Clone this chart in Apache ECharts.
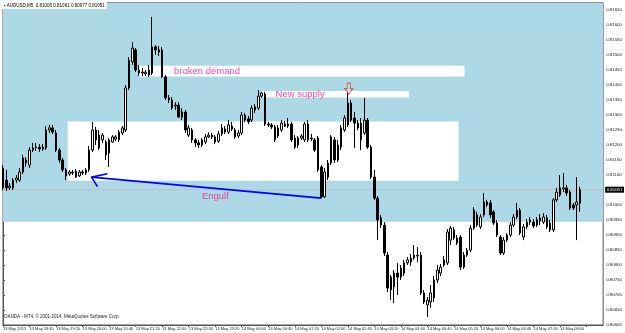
<!DOCTYPE html>
<html><head><meta charset="utf-8">
<style>html,body{margin:0;padding:0;background:#fff}#c{width:625px;height:333px}</style>
<script src="https://cdn.jsdelivr.net/npm/echarts@6/dist/echarts.min.js"></script>
</head><body><div id="c"></div>
<script>
const symbolName = 'AUDUSD,M5';
const copyrightText = 'OANDA - MT4, © 2001-2014, MetaQuotes Software Corp.';
const tickLabels = ["13 May 2015","13 May 18:40","13 May 19:20","13 May 20:00","13 May 20:40","13 May 21:20","13 May 22:00","13 May 22:40","13 May 23:20","14 May 00:00","14 May 00:40","14 May 01:20","14 May 02:00","14 May 02:40","14 May 03:20","14 May 04:00","14 May 04:40","14 May 05:20","14 May 06:00","14 May 06:40","14 May 07:20","14 May 08:00"];

const opens = [
0.81123,0.81083,0.81057,0.81057,0.81083,0.81083,0.81110,0.81150,0.81133,0.81183,
0.81190,0.81193,0.81187,0.81190,0.81250,0.81257,0.81240,0.81183,0.81150,0.81117,
0.81103,0.81110,0.81113,0.81097,0.81110,0.81107,0.81117,0.81183,0.81250,0.81233,
0.81217,0.81210,0.81173,0.81210,0.81220,0.81217,0.81240,0.81250,0.81390,0.81477,
0.81517,0.81450,0.81440,0.81437,0.81433,0.81440,0.81527,0.81517,0.81517,0.81427,
0.81357,0.81350,0.81330,0.81333,0.81293,0.81310,0.81233,0.81250,0.81217,0.81207,
0.81200,0.81210,0.81227,0.81233,0.81227,0.81213,0.81237,0.81253,0.81243,0.81263,
0.81250,0.81230,0.81240,0.81300,0.81287,0.81283,0.81317,0.81323,0.81363,0.81370,
0.81270,0.81267,0.81260,0.81230,0.81250,0.81270,0.81263,0.81270,0.81223,0.81200,
0.81223,0.81217,0.81270,0.81220,0.81217,0.81223,0.81127,0.81027,0.81093,0.81140,
0.81217,0.81150,0.81193,0.81250,0.81267,0.81340,0.81290,0.81273,0.81217,0.81240,
0.81283,0.81193,0.81093,0.81023,0.80957,0.80933,0.80833,0.80717,0.80727,0.80773,
0.80760,0.80773,0.80807,0.80810,0.80823,0.80830,0.80833,0.80707,0.80667,0.80677,
0.80690,0.80750,0.80773,0.80800,0.80807,0.80883,0.80917,0.80890,0.80893,0.80793,
0.80833,0.80850,0.80923,0.80967,0.80927,0.80967,0.81010,0.81007,0.80977,0.80940,
0.80893,0.80840,0.80883,0.80900,0.80933,0.80960,0.80983,0.80893,0.80927,0.80943,
0.80943,0.80933,0.80947,0.80943,0.80957,0.80940,0.80917,0.81017,0.81033,0.81053,
0.81057,0.81043,0.81000,0.81000,0.81006];
const closes = [
0.81057,0.81057,0.81063,0.81083,0.81090,0.81110,0.81157,0.81140,0.81183,0.81190,
0.81193,0.81187,0.81193,0.81250,0.81257,0.81243,0.81183,0.81150,0.81117,0.81097,
0.81110,0.81107,0.81093,0.81110,0.81107,0.81117,0.81183,0.81250,0.81217,0.81190,
0.81233,0.81167,0.81217,0.81227,0.81227,0.81243,0.81257,0.81390,0.81483,0.81523,
0.81450,0.81440,0.81443,0.81443,0.81450,0.81527,0.81517,0.81510,0.81427,0.81357,
0.81350,0.81323,0.81333,0.81293,0.81310,0.81250,0.81257,0.81217,0.81207,0.81200,
0.81217,0.81227,0.81233,0.81227,0.81210,0.81237,0.81257,0.81243,0.81267,0.81253,
0.81227,0.81240,0.81300,0.81283,0.81277,0.81323,0.81327,0.81363,0.81373,0.81270,
0.81267,0.81260,0.81217,0.81257,0.81273,0.81263,0.81270,0.81217,0.81193,0.81223,
0.81230,0.81270,0.81217,0.81223,0.81183,0.81117,0.81027,0.81110,0.81140,0.81227,
0.81150,0.81200,0.81257,0.81290,0.81340,0.81283,0.81273,0.81257,0.81273,0.81283,
0.81193,0.81093,0.81023,0.80950,0.80933,0.80840,0.80723,0.80760,0.80773,0.80760,
0.80790,0.80807,0.80817,0.80823,0.80833,0.80833,0.80707,0.80677,0.80683,0.80707,
0.80750,0.80783,0.80793,0.80817,0.80910,0.80923,0.80890,0.80873,0.80793,0.80833,
0.80850,0.80923,0.80983,0.80933,0.80960,0.81010,0.81000,0.80967,0.80940,0.80900,
0.80840,0.80883,0.80900,0.80933,0.80960,0.80983,0.80907,0.80927,0.80943,0.80950,
0.80930,0.80950,0.80957,0.80960,0.80927,0.80917,0.81017,0.81043,0.81057,0.81057,
0.81040,0.80990,0.80990,0.81010,0.81051];
const highs = [
0.81133,0.81117,0.81073,0.81090,0.81100,0.81123,0.81167,0.81160,0.81193,0.81207,
0.81207,0.81203,0.81203,0.81263,0.81267,0.81267,0.81250,0.81190,0.81157,0.81123,
0.81117,0.81117,0.81120,0.81117,0.81117,0.81123,0.81197,0.81277,0.81260,0.81250,
0.81240,0.81217,0.81223,0.81233,0.81233,0.81250,0.81263,0.81400,0.81493,0.81543,
0.81523,0.81467,0.81457,0.81450,0.81467,0.81627,0.81533,0.81530,0.81527,0.81433,
0.81367,0.81360,0.81343,0.81343,0.81323,0.81317,0.81267,0.81257,0.81223,0.81217,
0.81223,0.81237,0.81243,0.81240,0.81233,0.81247,0.81270,0.81263,0.81283,0.81277,
0.81257,0.81250,0.81310,0.81307,0.81297,0.81333,0.81337,0.81383,0.81377,0.81377,
0.81277,0.81273,0.81267,0.81267,0.81283,0.81280,0.81290,0.81277,0.81233,0.81230,
0.81237,0.81277,0.81283,0.81237,0.81223,0.81230,0.81133,0.81123,0.81150,0.81233,
0.81227,0.81217,0.81267,0.81300,0.81377,0.81350,0.81310,0.81283,0.81290,0.81357,
0.81290,0.81200,0.81117,0.81030,0.80967,0.80943,0.80843,0.80767,0.80783,0.80807,
0.80800,0.80817,0.80827,0.80837,0.80867,0.80860,0.80843,0.80717,0.80693,0.80733,
0.80763,0.80800,0.80803,0.80830,0.80920,0.80930,0.80927,0.80900,0.80900,0.80843,
0.80857,0.80933,0.80993,0.80977,0.80970,0.81040,0.81017,0.81017,0.80983,0.80950,
0.80900,0.80893,0.80907,0.80943,0.80970,0.81007,0.80990,0.80937,0.80953,0.80960,
0.80953,0.80960,0.80970,0.80973,0.80967,0.80950,0.81023,0.81057,0.81100,0.81107,
0.81067,0.81050,0.81007,0.81093,0.81061];
const lows = [
0.81050,0.81047,0.81050,0.81050,0.81073,0.81077,0.81103,0.81127,0.81123,0.81177,
0.81180,0.81177,0.81180,0.81183,0.81240,0.81237,0.81177,0.81140,0.81110,0.81083,
0.81097,0.81100,0.81090,0.81093,0.81100,0.81100,0.81110,0.81177,0.81200,0.81183,
0.81207,0.81150,0.81127,0.81207,0.81213,0.81210,0.81233,0.81243,0.81383,0.81467,
0.81443,0.81430,0.81430,0.81430,0.81427,0.81433,0.81500,0.81497,0.81423,0.81350,
0.81340,0.81317,0.81317,0.81290,0.81283,0.81240,0.81227,0.81207,0.81193,0.81190,
0.81193,0.81203,0.81223,0.81220,0.81203,0.81207,0.81230,0.81237,0.81237,0.81247,
0.81220,0.81223,0.81233,0.81277,0.81270,0.81277,0.81307,0.81317,0.81357,0.81263,
0.81260,0.81253,0.81210,0.81223,0.81243,0.81260,0.81257,0.81210,0.81187,0.81190,
0.81217,0.81210,0.81210,0.81213,0.81177,0.81110,0.81023,0.81023,0.81083,0.81133,
0.81140,0.81143,0.81183,0.81243,0.81260,0.81277,0.81190,0.81250,0.81183,0.81233,
0.81187,0.81087,0.81017,0.80883,0.80923,0.80830,0.80710,0.80683,0.80673,0.80700,
0.80750,0.80763,0.80800,0.80797,0.80817,0.80810,0.80700,0.80670,0.80627,0.80657,
0.80677,0.80740,0.80763,0.80793,0.80800,0.80867,0.80883,0.80867,0.80783,0.80787,
0.80827,0.80843,0.80917,0.80927,0.80920,0.80960,0.80993,0.80957,0.80933,0.80893,
0.80833,0.80833,0.80877,0.80893,0.80927,0.80953,0.80900,0.80883,0.80920,0.80933,
0.80923,0.80927,0.80933,0.80937,0.80920,0.80910,0.80910,0.81010,0.81027,0.81043,
0.81030,0.80983,0.80983,0.80883,0.80977];

// annotation objects (bar index, price)
const blueZone = [0.80944, 0.81675];
const brokenDemandZone = [41, 139.2, 0.81428, 0.81464];
const newSupplyZone = [78, 122.4, 0.81358, 0.81380];
const baseZone = [19.5, 137.4, 0.81081, 0.81278];
const engulfLine = [[96, 0.81023], [26.7, 0.81093]];
const engulfHead = [[31.5, 0.81104], [26.7, 0.81093], [28.5, 0.81061]];
const supplyArrow = [104.3, 0.81388];
const textNotes = [
  {name: 'broken demand', value: [51.6, 0.81446]},
  {name: 'New supply', value: [82.2, 0.81369]},
  {name: 'Engulf', value: [60.0, 0.81030]}
];

const N = 182;
const categories = [];
for (let i = 0; i < N; i++) {
  const t = 18 * 60 + 5 * i;
  const day = t >= 1440 ? 14 : 13;
  const m = t % 1440;
  categories.push(day + ' May ' + String(Math.floor(m / 60)).padStart(2, '0') + ':' + String(m % 60).padStart(2, '0'));
}
const ohlc = opens.map((o, i) => [o, closes[i], lows[i], highs[i]]);
const last = opens.length - 1;
const lastClose = closes[last];
const headerText = symbolName + '  ' + opens[last].toFixed(5) + ' ' + highs[last].toFixed(5) + ' ' + lows[last].toFixed(5) + ' ' + closes[last].toFixed(5);

const FONT = 'Liberation Sans';
const chart = echarts.init(document.getElementById('c'), null, {renderer: 'canvas'});
const area = (z, col) => [
  {xAxis: z[0], yAxis: z[2], itemStyle: {color: col, opacity: 1}},
  {xAxis: z[1], yAxis: z[3]}
];
chart.setOption({
  animation: false,
  title: {
    text: '▪ ' + headerText, left: 2, top: 2, padding: [1, 2],
    backgroundColor: '#fff',
    textStyle: {fontSize: 4.5, fontWeight: 'normal', color: '#000', fontFamily: FONT}
  },
  graphic: [{
    type: 'text', left: 4, top: 314, z: 100,
    style: {text: copyrightText, fontSize: 4.5, fill: '#222', fontFamily: FONT}
  }],
  grid: {left: 3, right: 18, top: 2.5, bottom: 8, show: true, backgroundColor: '#fff', borderColor: '#555', borderWidth: 1},
  xAxis: [{
    type: 'category', data: categories, boundaryGap: false,
    axisLine: {lineStyle: {color: '#555', width: 1}},
    axisTick: {show: true, interval: (i) => i % 8 === 0, length: 2, lineStyle: {color: '#555'}},
    axisLabel: {
      interval: (i) => i % 8 === 0,
      formatter: (v, i) => tickLabels[i / 8] || '',
      fontSize: 4, color: '#222', align: 'left', margin: 2, fontFamily: FONT
    },
    splitLine: {show: false}
  }, {
    type: 'value', min: 0, max: N - 1, show: false
  }],
  yAxis: {
    type: 'value', position: 'right', min: 0.806, max: 0.81675, interval: 0.0005,
    axisLine: {show: true, lineStyle: {color: '#555'}},
    axisTick: {show: true, length: 2, lineStyle: {color: '#555'}},
    axisLabel: {formatter: (v) => v.toFixed(5), fontSize: 4.4, color: '#222', margin: 3, showMaxLabel: false, fontFamily: FONT},
    splitLine: {show: false}
  },
  series: [
    {
      type: 'line', xAxisIndex: 1, data: [[0, blueZone[0]]], symbol: 'none', silent: true,
      lineStyle: {opacity: 0}, z: 1,
      markArea: {
        silent: true, z: 1,
        data: [
          [{yAxis: blueZone[0], itemStyle: {color: '#add8e6', opacity: 1}}, {yAxis: blueZone[1]}],
          area(baseZone, '#ffffff'),
          area(brokenDemandZone, '#ffffff'),
          area(newSupplyZone, '#ffffff')
        ]
      }
    },
    {
      type: 'line', xAxisIndex: 1, data: [[0, lastClose], [N - 1, lastClose]], symbol: 'none', silent: true, z: 1.5,
      lineStyle: {color: '#c0c0c0', width: 1},
      endLabel: {show: true, distance: 2, formatter: lastClose.toFixed(5), backgroundColor: '#000', color: '#fff', fontSize: 4.4, padding: [1, 1.5], fontFamily: FONT}
    },
    {
      type: 'candlestick', data: ohlc, barWidth: 2, z: 2,
      itemStyle: {color: '#ffffff', color0: '#000000', borderColor: '#000000', borderColor0: '#000000', borderWidth: 1}
    },
    {
      type: 'line', xAxisIndex: 1, data: engulfLine, symbol: 'none', silent: true, z: 3,
      lineStyle: {color: '#0000ff', width: 1.6}
    },
    {
      type: 'line', xAxisIndex: 1, data: engulfHead, symbol: 'none', silent: true, z: 3,
      lineStyle: {color: '#0000ff', width: 1.6}
    },
    {
      type: 'scatter', xAxisIndex: 1, data: [supplyArrow], z: 4, silent: true,
      symbol: 'path://M3,0 L7,0 L7,6 L10,6 L5,12 L0,6 L3,6 Z', symbolSize: [8, 11],
      itemStyle: {color: 'rgba(255,255,255,0.2)', borderColor: '#e0401a', borderWidth: 1}
    },
    {
      type: 'scatter', xAxisIndex: 1, data: textNotes, symbolSize: 0, z: 5, silent: true,
      label: {show: true, position: 'right', distance: 0, formatter: (p) => p.name, color: '#ff1493', fontSize: 9.5, fontFamily: FONT}
    }
  ]
});
</script></body></html>
